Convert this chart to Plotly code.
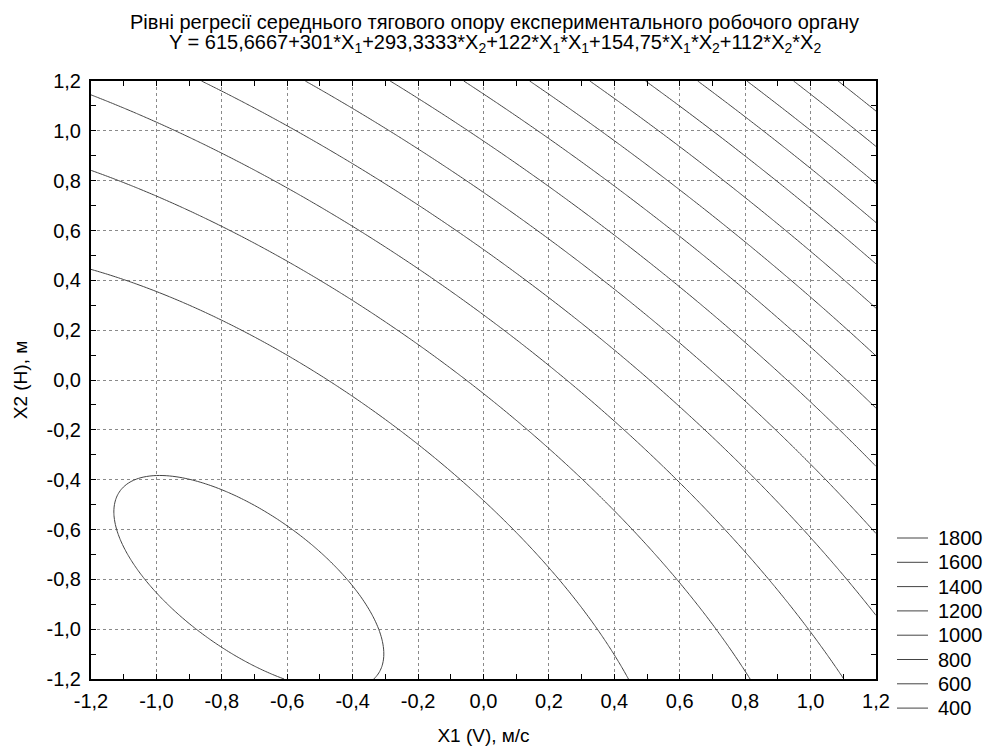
import numpy as np
import plotly.graph_objects as go

# Regression coefficients (from the title): b0, b1, b2, b11, b12, b22
b0 = 615.6667
b1 = 301.0
b2 = 293.3333
b11 = 122.0
b12 = 154.75
b22 = 112.0

# Contour levels
level_start = 400
level_end = 1800
level_step = 100

# Legend entries (top to bottom)
legend_levels = [1800, 1600, 1400, 1200, 1000, 800, 600, 400]

# Axis ticks
tick_vals = [-1.2, -1.0, -0.8, -0.6, -0.4, -0.2, 0.0, 0.2, 0.4, 0.6, 0.8, 1.0, 1.2]
tick_text = ["-1,2", "-1,0", "-0,8", "-0,6", "-0,4", "-0,2", "0,0", "0,2", "0,4", "0,6", "0,8", "1,0", "1,2"]

title_line1 = "Рівні регресії середнього тягового опору експериментального робочого органу"
title_line2 = ("Y = 615,6667+301*X<sub>1</sub>+293,3333*X<sub>2</sub>+122*X<sub>1</sub>*X<sub>1</sub>"
               "+154,75*X<sub>1</sub>*X<sub>2</sub>+112*X<sub>2</sub>*X<sub>2</sub>")

x1 = np.linspace(-1.2, 1.2, 241)
x2 = np.linspace(-1.2, 1.2, 241)
X1, X2 = np.meshgrid(x1, x2)
Z = b0 + b1 * X1 + b2 * X2 + b11 * X1 * X1 + b12 * X1 * X2 + b22 * X2 * X2

line_color = "#444444"
font_family = "Liberation Sans, Arial, sans-serif"

W, H = 988, 746
ML, MR, MT, MB = 91, 112, 81, 67
plot_w = W - ML - MR
plot_h = H - MT - MB

fig = go.Figure()
fig.add_trace(go.Contour(
    x=x1, y=x2, z=Z,
    contours=dict(coloring="lines", start=level_start, end=level_end, size=level_step, showlabels=False),
    colorscale=[[0, line_color], [1, line_color]],
    line=dict(width=1),
    showscale=False,
    showlegend=False,
    hoverinfo="skip",
))

# Legend (drawn as line samples + labels at the right of the plot)
leg_top_px = 538.0
leg_step_px = 24.3
shapes = []
annotations = []
for i, lv in enumerate(legend_levels):
    ypx = leg_top_px + i * leg_step_px
    yp = (H - MB - ypx) / plot_h
    shapes.append(dict(type="line", xref="paper", yref="paper",
                       x0=(897 - ML) / plot_w, x1=(928 - ML) / plot_w, y0=yp, y1=yp,
                       line=dict(color=line_color, width=1)))
    annotations.append(dict(text=str(lv), xref="paper", yref="paper",
                            x=(936 - ML) / plot_w, y=yp, xanchor="left", yanchor="middle",
                            showarrow=False, font=dict(size=20, family=font_family, color="black")))

# Two-line title
for txt, ypx in ((title_line1, 22), (title_line2, 44)):
    annotations.append(dict(text=txt, xref="paper", yref="paper",
                            x=(494.5 - ML) / plot_w, y=(H - MB - ypx) / plot_h,
                            xanchor="center", yanchor="middle", showarrow=False,
                            font=dict(size=20, family=font_family, color="black")))

axis_common = dict(
    range=[-1.2, 1.2],
    tickvals=tick_vals,
    ticktext=tick_text,
    ticks="inside",
    ticklen=5,
    tickcolor="black",
    showline=True,
    linecolor="black",
    linewidth=2,
    mirror="allticks",
    showgrid=True,
    gridcolor="#8a8a8a",
    griddash="dot",
    gridwidth=1,
    zeroline=False,
    automargin=False,
    minor=dict(ticks="inside", dtick=0.1, tick0=0, ticklen=5, tickcolor="black", showgrid=False),
    tickfont=dict(size=20, color="black", family=font_family),
)

fig.update_layout(
    width=W, height=H,
    margin=dict(l=ML, r=MR, t=MT, b=MB, autoexpand=False),
    paper_bgcolor="white",
    plot_bgcolor="white",
    font=dict(family=font_family, color="black", size=20),
    xaxis=dict(axis_common, ticklabelstandoff=3,
               title=dict(text="X1 (V), м/с", font=dict(size=19), standoff=23)),
    yaxis=dict(axis_common, ticklabelstandoff=4,
               title=dict(text="X2 (H), м", font=dict(size=19), standoff=14)),
    showlegend=False,
    shapes=shapes,
    annotations=annotations,
)

fig.write_html("out.html", config={"displayModeBar": False},
               post_script="document.body.style.margin='0px';")
